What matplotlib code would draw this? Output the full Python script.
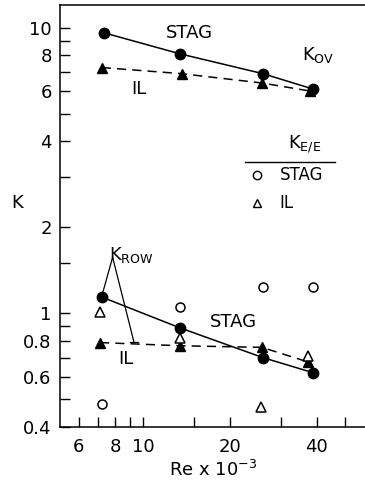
import matplotlib
matplotlib.use("Agg")
import matplotlib.pyplot as plt
from matplotlib.ticker import FixedLocator, NullFormatter

plt.rcParams["font.family"] = ["DejaVu Sans"]

# K_OV (overall), filled markers
stag_ov_re = [7.3, 13.4, 26.0, 38.7]
stag_ov_k = [9.6, 8.1, 6.9, 6.1]
il_ov_re = [7.2, 13.6, 25.8, 37.8]
il_ov_k = [7.25, 6.9, 6.4, 6.0]

# K_ROW, filled markers
stag_row_re = [7.2, 13.4, 26.0, 38.7]
stag_row_k = [1.14, 0.89, 0.70, 0.62]
il_row_re = [7.1, 13.4, 25.8, 37.4]
il_row_k = [0.79, 0.77, 0.76, 0.675]

# K_E/E, open markers
stag_ee_re = [7.2, 13.4, 26.0, 38.7]
stag_ee_k = [0.48, 1.05, 1.24, 1.24]
il_ee_re = [7.1, 13.4, 25.6, 37.4]
il_ee_k = [1.01, 0.82, 0.47, 0.71]

x_major = [6, 8, 10, 20, 40]
x_minor = [7, 9, 15, 30, 50]
y_major = [0.4, 0.6, 0.8, 1, 2, 4, 6, 8, 10]
y_labels = ["0.4", "0.6", "0.8", "1", "2", "4", "6", "8", "10"]
y_minor = [0.5, 0.7, 0.9, 1.5, 3, 5, 7, 9]

fig = plt.figure(figsize=(3.65, 4.84), dpi=100)
ax = fig.add_axes([60 / 365, 57 / 484, 305 / 365, 422 / 484])
ax.set_xscale("log")
ax.set_yscale("log")
ax.set_xlim(5.16, 58.7)
ax.set_ylim(0.4, 12.0)

fs = 13
ax.plot(stag_ov_re, stag_ov_k, "-", color="black", lw=1.1,
        marker="o", ms=7.5, mfc="black", mec="black")
ax.plot(il_ov_re, il_ov_k, "--", color="black", lw=1.1, dashes=(6, 4),
        marker="^", ms=7.5, mfc="black", mec="black")
ax.plot(stag_row_re, stag_row_k, "-", color="black", lw=1.1,
        marker="o", ms=7.5, mfc="black", mec="black")
ax.plot(il_row_re, il_row_k, "--", color="black", lw=1.1, dashes=(6, 4),
        marker="^", ms=7.5, mfc="black", mec="black")
ax.plot(stag_ee_re, stag_ee_k, "o", ls="none", ms=6.5, mfc="white",
        mec="black", mew=1.1)
ax.plot(il_ee_re, il_ee_k, "^", ls="none", ms=6.5, mfc="white",
        mec="black", mew=1.1)

# labels on the curves
ax.text(14.5, 9.6, "STAG", fontsize=fs, ha="center", va="center")
ax.text(40.5, 8.0, r"K$_{\mathrm{OV}}$", fontsize=fs, ha="center", va="center")
ax.text(9.7, 6.1, "IL", fontsize=fs, ha="center", va="center")
ax.text(20.5, 0.93, "STAG", fontsize=fs, ha="center", va="center")
ax.text(8.7, 0.69, "IL", fontsize=fs, ha="center", va="center")
ax.text(7.6, 1.6, r"K$_{\mathrm{ROW}}$", fontsize=fs, ha="left", va="center")
ax.plot([7.27, 7.85, 9.3], [1.19, 1.57, 0.795], color="black", lw=0.9)
ax.plot([9.0, 9.6], [0.795, 0.795], color="black", lw=0.9)

# K_E/E key
ax.text(36.4, 3.9, r"K$_{\mathrm{E/E}}$", fontsize=fs, ha="center", va="center")
ax.plot([0.607, 0.90], [0.628, 0.628], color="black", lw=1.0,
        transform=ax.transAxes)
ax.plot([0.646], [0.597], "o", ms=6, mfc="white", mec="black", mew=1.0,
        transform=ax.transAxes)
ax.text(0.72, 0.597, "STAG", fontsize=12, ha="left", va="center",
        transform=ax.transAxes)
ax.plot([0.646], [0.531], "^", ms=6, mfc="white", mec="black", mew=1.0,
        transform=ax.transAxes)
ax.text(0.72, 0.531, "IL", fontsize=12, ha="left", va="center",
        transform=ax.transAxes)

ax.xaxis.set_major_locator(FixedLocator(x_major))
ax.xaxis.set_minor_locator(FixedLocator(x_minor))
ax.set_xticklabels([str(v) for v in x_major])
ax.xaxis.set_minor_formatter(NullFormatter())
ax.yaxis.set_major_locator(FixedLocator(y_major))
ax.yaxis.set_minor_locator(FixedLocator(y_minor))
ax.set_yticklabels(y_labels)
ax.yaxis.set_minor_formatter(NullFormatter())

ax.tick_params(which="both", direction="in", length=7, width=1.0,
               labelsize=fs, top=False, right=False)
ax.tick_params(axis="x", pad=8)
ax.tick_params(axis="y", pad=6)
ax.spines["right"].set_visible(False)
for s in ["left", "bottom", "top"]:
    ax.spines[s].set_linewidth(1.1)

fig.text(17 / 365, 1 - 203 / 484, "K", fontsize=fs, ha="center", va="center")
fig.text(213 / 365, 1 - 470 / 484, r"Re x 10$^{-3}$", fontsize=fs,
         ha="center", va="center")

fig.savefig("out.png", dpi=100)
